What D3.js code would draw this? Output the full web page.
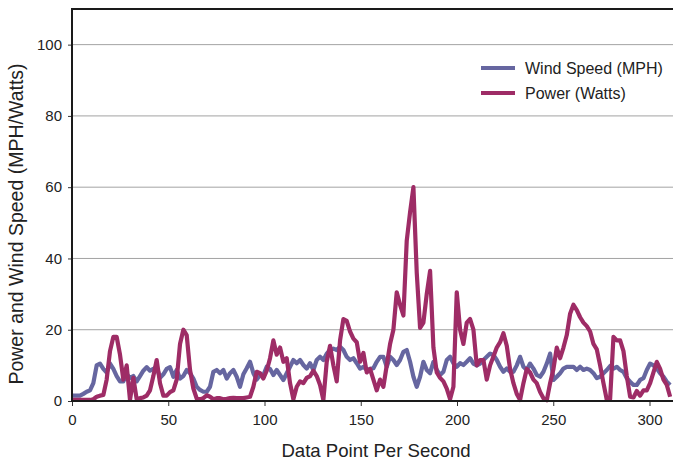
<!DOCTYPE html>
<html>
<head>
<meta charset="utf-8">
<script src="https://cdn.jsdelivr.net/npm/d3@7"></script>
<style>
  body { margin: 0; background: #fff; }
  svg { display: block; font-family: "Liberation Sans", Arial, sans-serif; }
</style>
</head>
<body>
<div id="chart"></div>
<script>
// sampled readings, one every ~1.73 data points, first one just before x = 0
var firstPoint = -1.04;
var pointSpacing = 1.732;

var windSpeed = [
  1.5,1.5,1.5,1.5,2,2.6,3,5,10,10.5, 9,8,10.5,9,7,5.5,5.5,7.5,6.5,7, 5.5,7,8.5,9.5,8.5,9,9.6,6.5,7.5,9, 9.5,
  6.8,8.7,6.3,7,8.7,7.8,6.3,4,3.1,2.6, 2.6,4,8.2,8.7,7.8,8.7,6.3,7.8,8.7,6.8, 4,7.5,9.2,11,7.8,6,7.3,7.3,9.6,9,
  7.3,8.7,7.3,5.9,7.8,9.6,11.5,10.6,11.5,10.1, 9.1,10.6,8.7,11.5,12.4,11.5,13.3,14.3,14.7,14.3, 15.2,14.3,12.4,11.5,12,10.6,9.1,9.6,8.7,9,
  9.2,11,12.4,12.4,9.6,12.4,11.5,10.1,11.5,13.8, 14.3,11,6.8,4,6.8,11,8.7,7.8,11,8.7, 7.3,8.2,11.5,12.4,10.6,9.6,10.6,10.1,11,12,
  10.5,10,10.5,11.5,12.4,13.3,12.9,11.5,9.6,8.2, 9.1,8.2,8.2,10,12.4,9.6,8.7,10.5,9.1,7.3, 6.8,8.2,10.5,13.3,5.9,6.8,7.8,9.1,9.6,9.6,
  9.6,8.7,9.6,8.7,9.1,8.7,7.8,6.4,6.8,7.8, 8.7,9.8,9.1,9.6,8.7,8.2,6.4,5.4,4.5,4.5, 5.9,6.4,8.7,10.5,10,9.1,7.8,6.8,5.4,4.5
];

var power = [
  0.3,0.3,0.3,0.3,0.3,0.3,0.3,0.5,1.2,1.5, 1.7,6,14,18,18,13,6,10,0.3,6.5, 0.5,0.8,1,1.5,3,7,11.5,5,1.5,1.5, 2.5,
  3,6,16,20,18.5,8.7,3.5,0.7,0.5,0.8, 1.6,1.2,0.5,0.8,0.8,0.5,0.6,0.8,0.9,0.8, 0.8,0.8,1,1.2,4,8.2,7.8,6.3,8.5,12,
  17,13,15,11,12,5,0.5,4,5.5,5, 6.5,7,8.5,7,4.5,0.3,11,15.5,10,5.5, 17,23,22.5,19.5,17.5,16.5,11,13.5,8,9,
  6,3,6,4,10,16,20,30.5,27,24, 45,53,60,36,20.5,22,30,36.5,15,8, 6.5,5.5,3.5,0.5,4,30.5,20,16,22,23,
  20,10,11.5,11.5,6,10,12.5,15,16.5,19, 15.5,9,5,2,0.3,5,9,8,6,5, 2.5,0.8,0.2,5,9,15,12,15,18.5,24.5,
  27,25.5,23.5,22,21,19.5,16,14.5,10,5, 0.3,0.5,18,17,17,14,7,1.2,1,2.8, 1.5,3,3,5,8,11,9,6,4.5,1.2
];

var seriesNames = ["Wind Speed (MPH)", "Power (Watts)"];
var seriesColors = ["#6666a0", "#9e2c66"];
var xTicks = [0, 50, 100, 150, 200, 250, 300];
var yTicks = [0, 20, 40, 60, 80, 100];

var W = 673, H = 463;
var margin = {top: 9, left: 72, bottom: 62};
var plotBottom = H - margin.bottom;

var svg = d3.select("#chart").append("svg")
  .attr("width", W)
  .attr("height", H);

var x = d3.scaleLinear().domain([0, 320]).range([margin.left, margin.left + 320 * 1.925]);
var y = d3.scaleLinear().domain([0, 110]).range([plotBottom, margin.top]);

svg.append("clipPath").attr("id", "plot")
  .append("rect")
    .attr("x", margin.left).attr("y", 0)
    .attr("width", W - margin.left).attr("height", plotBottom + 3);

// gridlines
svg.append("g")
  .selectAll("line")
  .data(yTicks.slice(1))
  .enter().append("line")
    .attr("x1", margin.left).attr("x2", W)
    .attr("y1", function(d) { return y(d); })
    .attr("y2", function(d) { return y(d); })
    .attr("stroke", "#a3a3a3")
    .attr("stroke-width", 1);

// lines
var line = d3.line()
  .x(function(d, i) { return x(firstPoint + i * pointSpacing); })
  .y(function(d) { return y(d); });

[windSpeed, power].forEach(function(s, k) {
  svg.append("path")
    .datum(s)
    .attr("clip-path", "url(#plot)")
    .attr("fill", "none")
    .attr("stroke", seriesColors[k])
    .attr("stroke-width", 4.2)
    .attr("stroke-linejoin", "round")
    .attr("d", line);
});

// axes
var yAxis = svg.append("g")
  .attr("transform", "translate(" + margin.left + ",0)")
  .call(d3.axisLeft(y).tickValues(yTicks).tickSize(4).tickPadding(6));
var xAxis = svg.append("g")
  .attr("transform", "translate(0," + plotBottom + ")")
  .call(d3.axisBottom(x).tickValues(xTicks).tickSize(5).tickPadding(8));

[xAxis, yAxis].forEach(function(a) {
  a.select(".domain").remove();
  a.selectAll("line").attr("stroke", "#333").attr("stroke-width", 1);
  a.selectAll("text").attr("fill", "#222").style("font-size", "15px")
    .style("font-family", "Liberation Sans, Arial, sans-serif");
});

// frame: left, bottom, top
svg.append("path")
  .attr("d", "M" + W + "," + margin.top + "H" + margin.left + "V" + plotBottom + "H" + W)
  .attr("fill", "none")
  .attr("stroke", "#1a1a1a")
  .attr("stroke-width", 2);

// titles
svg.append("text")
  .attr("x", 376).attr("y", 457)
  .attr("text-anchor", "middle")
  .style("font-size", "18.6px")
  .attr("fill", "#222")
  .text("Data Point Per Second");

svg.append("text")
  .attr("transform", "translate(23,224) rotate(-90)")
  .attr("text-anchor", "middle")
  .style("font-size", "19.5px")
  .attr("fill", "#222")
  .text("Power and Wind Speed (MPH/Watts)");

// legend
var legend = svg.append("g").selectAll("g")
  .data(seriesNames)
  .enter().append("g")
    .attr("transform", function(d, i) { return "translate(481," + (68 + i * 25) + ")"; });
legend.append("line")
  .attr("x1", 0).attr("x2", 34)
  .attr("stroke", function(d, i) { return seriesColors[i]; })
  .attr("stroke-width", 4);
legend.append("text")
  .attr("x", 44).attr("y", 5.5)
  .style("font-size", "16px")
  .attr("fill", "#222")
  .text(function(d) { return d; });
</script>
</body>
</html>
